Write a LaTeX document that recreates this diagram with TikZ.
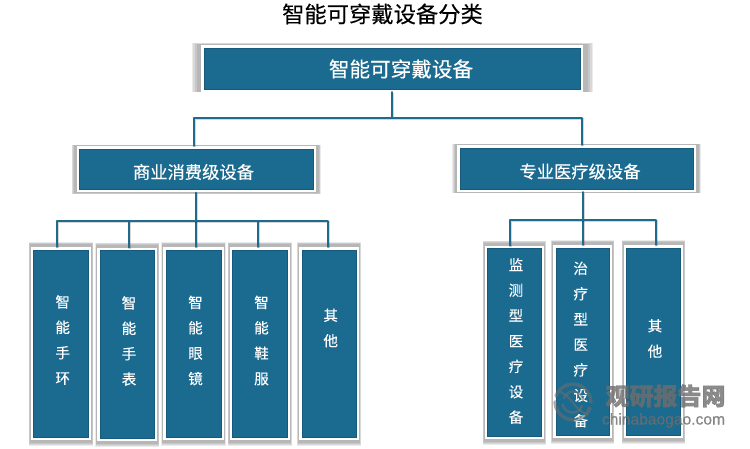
\documentclass[tikz,border=0pt]{standalone}
\usepackage{fontspec}
\setmainfont[FakeBold=.25]{Noto Sans CJK SC}
\newfontfamily\wmfont[BoldFeatures={FakeBold=1.5}]{Noto Sans CJK SC}
\newfontfamily\latinwm[FakeBold=.5]{Liberation Sans}
\definecolor{boxblue}{HTML}{1B6A8F}
\definecolor{boxedge}{HTML}{155A7C}
\definecolor{linkblue}{HTML}{1F6B8E}
\definecolor{wmgray}{HTML}{6E6E6E}
\tikzset{
  devbox/.style={draw=white,line width=2.6pt,fill=boxblue,inner sep=0pt},
  lab/.style={text=white,align=center,inner sep=0pt},
  vlab/.style={lab,font=\fontsize{14.5}{25.4}\selectfont},
  conn/.style={draw=linkblue,line width=1.6pt,line cap=round,line join=round},
  connshade/.style={draw=black,draw opacity=.16,line width=1.6pt}
}
\newcommand\devbox[9]{%
  \foreach \f in {1,.85,.7,.5}{%
    \fill[black,opacity=.08] ({#2-#6*\f},{#3-#8*\f}) rectangle ({#4+#7*\f},{#5+#9*\f});}%
  \node[devbox,minimum width={#4-#2-2.6},minimum height={#5-#3-2.6}] (#1) at ({(#2+#4)/2},{(#3+#5)/2}) {};
  \draw[boxedge,line width=.5pt] ([shift={(2.8,2.8)}]#1.north west) rectangle ([shift={(-2.8,-2.8)}]#1.south east);
}
\newcommand\linkpath[1]{%
  \begin{scope}[transform canvas={shift={(1pt,-1pt)}}]\draw[connshade] #1;\end{scope}%
  \draw[conn] #1;}
\begin{document}
\begin{tikzpicture}[x=1pt,y=-1pt]
\useasboundingbox (0,0) rectangle (750,449);
\fill[white] (0,0) rectangle (750,449);
% boxes
\devbox{root}{201}{45}{583}{92}{9}{10}{2}{0}
\devbox{mida}{76.5}{146}{316}{192.5}{5}{5}{1}{1.5}
\devbox{midb}{457}{145}{696}{192}{5}{5}{1}{1.5}
\devbox{ba}{30.7}{247}{91.3}{439.7}{2}{2}{5}{6}
\devbox{bb}{97.3}{247.7}{157.3}{441}{2}{2}{5}{6}
\devbox{bc}{163.3}{247}{223.7}{440}{2}{2}{5}{6}
\devbox{bd}{229.7}{247}{290}{440}{2}{2}{5}{6}
\devbox{be}{299}{247}{359}{440}{2}{2}{5}{6}
\devbox{ra}{484.7}{245.7}{544}{438.7}{2}{2}{5}{6}
\devbox{rb}{553}{245}{612.3}{438}{2}{2}{5}{6}
\devbox{rc}{623.7}{245}{683.3}{438}{2}{2}{5}{6}
% connectors
\coordinate (rj) at (392,118);
\coordinate (rl) at (194,118);
\coordinate (rr) at (582,118);
\linkpath{(rj |- root.south) -- (rj)}
\linkpath{(rl |- mida.north) -- (rl) -- (rr) -- (rr |- midb.north)}
\coordinate (aj) at (196,221);
\coordinate (a1) at (57,221);
\coordinate (a2) at (129,221);
\coordinate (a4) at (258,221);
\coordinate (a5) at (328,221);
\linkpath{(aj |- mida.south) -- (aj |- bc.north)}
\linkpath{(a1 |- ba.north) -- (a1) -- (a5) -- (a5 |- be.north)}
\linkpath{(a2) -- (a2 |- bb.north)}
\linkpath{(a4) -- (a4 |- bd.north)}
\coordinate (bj) at (583,220);
\coordinate (b1) at (510,220);
\coordinate (b3) at (656,220);
\linkpath{(bj |- midb.south) -- (bj |- rb.north)}
\linkpath{(b1 |- ra.north) -- (b1) -- (b3) -- (b3 |- rc.north)}
% labels
\node[inner sep=0pt,font=\fontsize{22.3}{24}\selectfont,text=black] (title) at (382.5,14) {智能可穿戴设备分类};
\node[lab,font=\fontsize{20.6}{24}\selectfont] (roott) at (401,69) {智能可穿戴设备};
\node[lab,font=\fontsize{17.3}{20}\selectfont] (midat) at (193.5,172) {商业消费级设备};
\node[lab,font=\fontsize{17.3}{20}\selectfont] (midbt) at (580,171.5) {专业医疗级设备};
\node[vlab] (bat) at (62.7,340) {智\\能\\手\\环};
\node[vlab] (bbt) at (129,341) {智\\能\\手\\表};
\node[vlab] (bct) at (195.5,340.5) {智\\能\\眼\\镜};
\node[vlab] (bdt) at (261.5,340.5) {智\\能\\鞋\\服};
\node[vlab] (bet) at (330.7,328) {其\\他};
\node[vlab] (rat) at (516,341) {监\\测\\型\\医\\疗\\设\\备};
\node[vlab] (rbt) at (580.7,344.5) {治\\疗\\型\\医\\疗\\设\\备};
\node[vlab] (rct) at (655,338.5) {其\\他};
% watermark
\begin{scope}[wmgray,opacity=.55,line cap=round]
  \draw[line width=3.5pt] (556,396) arc[start angle=200,end angle=360,radius=18];
  \draw[line width=3.5pt] (590,408) arc[start angle=20,end angle=180,radius=18];
  \draw[line width=2.5pt] (564,398) arc[start angle=200,end angle=350,radius=10];
  \draw[line width=2.5pt] (582,406) arc[start angle=20,end angle=170,radius=10];
  \draw[line width=2pt] (560,392) .. controls (572,396) and (574,410) .. (587,414);
\end{scope}
\node[inner sep=0pt,font=\wmfont\bfseries\fontsize{24}{26}\selectfont,text=wmgray,opacity=.8] (wma) at (665.5,396) {观研报告网};
\node[inner sep=0pt,font=\latinwm\fontsize{15.6}{18}\selectfont,text=wmgray,opacity=.8] (wmb) at (663.5,420.5) {chinabaogao.com};
\end{tikzpicture}
\end{document}
